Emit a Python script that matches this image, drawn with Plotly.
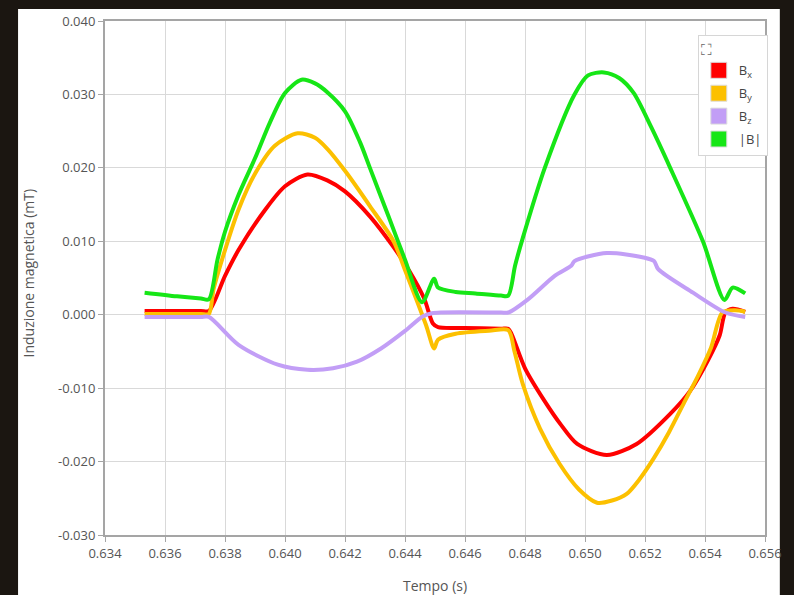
import plotly.graph_objects as go

# ---- data (time in s, induction in mT) ----
t_bx = [0.63532, 0.6364, 0.6372, 0.63746, 0.63800, 0.63845, 0.63934, 0.64000, 0.64075, 0.64141,
        0.64200, 0.64283, 0.64362, 0.64414, 0.64464, 0.64493, 0.6451, 0.6460, 0.6472, 0.64744,
        0.64755, 0.64800, 0.64866, 0.6492, 0.64974, 0.65073, 0.65172, 0.65284, 0.6535, 0.6541,
        0.65449, 0.65468, 0.65492, 0.65534]
bx = [0.0005, 0.0005, 0.0005, 0.0005, 0.0053, 0.0088, 0.0143, 0.0175, 0.0191, 0.0183,
      0.0168, 0.0134, 0.0092, 0.0060, 0.0022, -0.0012, -0.0017, -0.0018, -0.0019, -0.0019,
      -0.0026, -0.0073, -0.0118, -0.0150, -0.0176, -0.0191, -0.0176, -0.0135, -0.0104, -0.0062,
      -0.0028, 0.0003, 0.0008, 0.0004]

t_by = [0.63532, 0.6364, 0.6372, 0.63746, 0.63762, 0.63800, 0.63845, 0.63900, 0.63966, 0.64042,
        0.64100, 0.64141, 0.64200, 0.64283, 0.64362, 0.64400, 0.6447, 0.64497, 0.6451, 0.64569,
        0.6468, 0.64744, 0.64765, 0.64793, 0.6485, 0.64915, 0.6498, 0.6504, 0.6509, 0.65139,
        0.6518, 0.6523, 0.6528, 0.6533, 0.65376, 0.6542, 0.65458, 0.6550, 0.65534]
by = [0.0001, 0.0001, 0.0001, 0.0001, 0.0035, 0.0088, 0.0143, 0.0192, 0.0230, 0.0247,
      0.0241, 0.0226, 0.0196, 0.0148, 0.0100, 0.0061, -0.0014, -0.0046, -0.0034, -0.0026,
      -0.0022, -0.0021, -0.0050, -0.0095, -0.0155, -0.0203, -0.0238, -0.0256, -0.0253, -0.0244,
      -0.0225, -0.0195, -0.0160, -0.0120, -0.0084, -0.0045, 0.0003, 0.0006, 0.0004]

t_bz = [0.63532, 0.6364, 0.6372, 0.63746, 0.63845, 0.63976, 0.64075, 0.6416, 0.6424, 0.6432,
        0.6440, 0.6446, 0.6449, 0.6452, 0.6472, 0.64744, 0.6481, 0.64899, 0.64955, 0.64965,
        0.65073, 0.65195, 0.6523, 0.65244, 0.6536, 0.65468, 0.65534]
bz = [-0.0003, -0.0003, -0.0003, -0.0003, -0.0041, -0.0068, -0.0075, -0.0073, -0.0064, -0.0046,
      -0.0022, -0.0002, 0.0002, 0.0003, 0.0003, 0.0003, 0.0021, 0.0053, 0.0067, 0.0073,
      0.0084, 0.0078, 0.0073, 0.0062, 0.0030, 0.0003, -0.0003]

t_bm = [0.63532, 0.6364, 0.6372, 0.63746, 0.63775, 0.63800, 0.63845, 0.63900, 0.63950, 0.64000,
        0.64055, 0.64100, 0.64141, 0.64200, 0.64250, 0.64283, 0.64345, 0.64400, 0.64457, 0.64497,
        0.6451, 0.64569, 0.64635, 0.6472, 0.64744, 0.64767, 0.64793, 0.64866, 0.64965, 0.6501,
        0.65063, 0.65115, 0.65162, 0.6522, 0.65284, 0.65393, 0.65465, 0.65492, 0.65534]
bm = [0.0030, 0.0025, 0.0022, 0.0021, 0.0075, 0.0113, 0.0163, 0.0213, 0.0262, 0.0302,
      0.0320, 0.0315, 0.0303, 0.0277, 0.0235, 0.0200, 0.0134, 0.0075, 0.0017, 0.0049,
      0.0037, 0.0031, 0.0029, 0.0026, 0.0026, 0.0067, 0.0105, 0.0200, 0.0300, 0.0326,
      0.0330, 0.0322, 0.0302, 0.0256, 0.0200, 0.0100, 0.0020, 0.0037, 0.0029]

names = ["B<sub>x</sub>", "B<sub>y</sub>", "B<sub>z</sub>", "|B|"]
colors = ["#ff0000", "#fcc000", "#c29ef6", "#16e616"]
x_ticks = [0.634, 0.636, 0.638, 0.640, 0.642, 0.644, 0.646, 0.648, 0.650, 0.652, 0.654, 0.656]
y_ticks = [-0.030, -0.020, -0.010, 0.000, 0.010, 0.020, 0.030, 0.040]

series = [(t_bx, bx), (t_by, by), (t_bz, bz), (t_bm, bm)]

fig = go.Figure()
for (tt, vv), c in zip(series, colors):
    fig.add_trace(go.Scatter(x=tt, y=vv, mode="lines",
                             line=dict(color=c, width=4, shape="spline", smoothing=0.8),
                             showlegend=False, hoverinfo="skip"))
for i, (n, c) in enumerate(zip(names, colors)):
    fig.add_trace(go.Scatter(x=[None], y=[None], mode="markers", name=n,
                             legendgroup=f"g{i}",
                             marker=dict(symbol="square", size=16, color=c,
                                         line=dict(color="#dddddd", width=1))))

font_family = "Open Sans, DejaVu Sans, sans-serif"
L, R, T, B = 105, 773, 16, 535
W, H = R - L, B - T

def px(x):
    return (x - L) / W

def py(y):
    return (B - y) / H

fig.update_layout(
    width=794, height=595,
    margin=dict(l=L, r=794 - R, t=T, b=595 - B),
    paper_bgcolor="#1b1611",
    plot_bgcolor="#fffdf7",
    font=dict(family=font_family, size=13, color="#555555"),
    showlegend=True,
    legend=dict(x=px(705), y=py(30), xanchor="left", yanchor="top",
                bgcolor="#ffffff", bordercolor="#d6d6d6", borderwidth=1,
                font=dict(size=13, color="#444444"),
                title=dict(text="⛶", font=dict(size=15, color="#666666")),
                tracegroupgap=3, itemwidth=30),
    xaxis=dict(range=[0.634, 0.656], tickvals=x_ticks,
               ticktext=[f"{v:.3f}" for v in x_ticks],
               showgrid=True, gridcolor="#d9d9d9", gridwidth=1,
               showline=True, linecolor="#a5a5a5", linewidth=2, mirror=True,
               ticks="outside", ticklen=5, tickcolor="#a5a5a5",
               zeroline=False, tickfont=dict(size=13, color="#555555")),
    yaxis=dict(range=[-0.030, 0.040], tickvals=y_ticks,
               ticktext=[f"{v:.3f}" for v in y_ticks],
               showgrid=True, gridcolor="#d9d9d9", gridwidth=1,
               showline=True, linecolor="#a5a5a5", linewidth=2, mirror=True,
               ticks="outside", ticklen=5, tickcolor="#a5a5a5",
               zeroline=False, tickfont=dict(size=13, color="#555555")),
    shapes=[dict(type="rect", xref="paper", yref="paper", layer="below",
                 x0=px(17), x1=px(788), y0=py(600), y1=py(4),
                 fillcolor="#ffffff", line=dict(width=0))],
    annotations=[
        dict(text="Tempo (s)", xref="paper", yref="paper", x=0.5, y=py(586),
             xanchor="center", yanchor="middle", showarrow=False,
             font=dict(size=14, color="#555555")),
        dict(text="Induzione magnetica (mT)", xref="paper", yref="paper",
             x=px(28), y=py(270), xanchor="center", yanchor="middle",
             textangle=-90, showarrow=False, font=dict(size=14, color="#555555")),
    ],
)

fig.write_html("out.html")
